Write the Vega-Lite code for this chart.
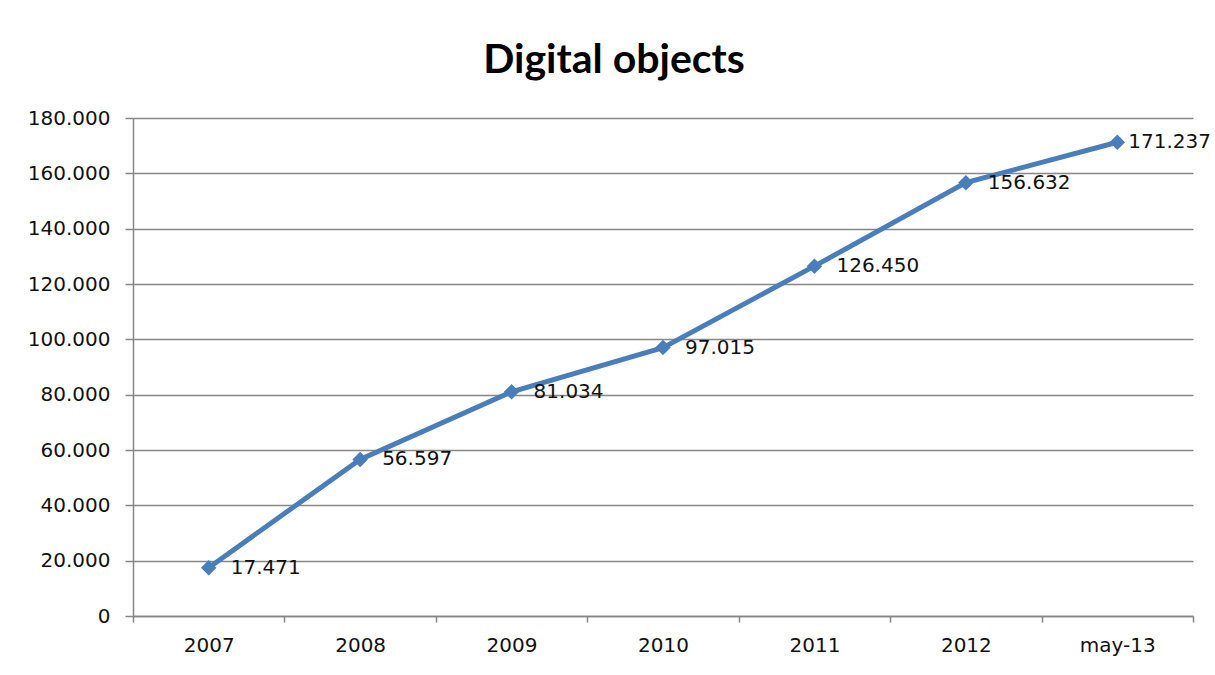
{
  "$schema": "https://vega.github.io/schema/vega-lite/v6.json",
  "width": 1060,
  "height": 498,
  "autosize": {"type": "none"},
  "padding": {"left": 133, "top": 118, "right": 22, "bottom": 59},
  "background": "white",
  "title": {
    "text": "Digital objects",
    "font": "Lato",
    "fontSize": 41,
    "fontWeight": "bold",
    "color": "#000000",
    "anchor": "middle",
    "dx": -49,
    "baseline": "alphabetic",
    "offset": -6
  },
  "data": {
    "values": [
      {"period": "2007", "objects": 17471},
      {"period": "2008", "objects": 56597},
      {"period": "2009", "objects": 81034},
      {"period": "2010", "objects": 97015},
      {"period": "2011", "objects": 126450},
      {"period": "2012", "objects": 156632},
      {"period": "may-13", "objects": 171237}
    ]
  },
  "encoding": {
    "x": {
      "field": "period",
      "type": "ordinal",
      "sort": null,
      "bandPosition": 0.5,
      "scale": {"type": "band", "paddingInner": 0, "paddingOuter": 0},
      "axis": {
        "title": null,
        "labelAngle": 0,
        "tickBand": "extent",
        "tickSize": 6,
        "tickColor": "#868686",
        "domainColor": "#868686",
        "domainWidth": 1.5,
        "tickWidth": 1.5,
        "labelFont": "DejaVu Sans",
        "labelFontSize": 20,
        "labelColor": "#111111",
        "labelPadding": 13,
        "grid": false
      }
    },
    "y": {
      "field": "objects",
      "type": "quantitative",
      "scale": {"domain": [0, 180000], "nice": false},
      "axis": {
        "title": null,
        "values": [0, 20000, 40000, 60000, 80000, 100000, 120000, 140000, 160000, 180000],
        "format": ",.0f",
        "tickSize": 8,
        "tickColor": "#868686",
        "tickWidth": 1.5,
        "domainColor": "#868686",
        "domainWidth": 1.5,
        "grid": true,
        "gridColor": "#868686",
        "gridWidth": 1.5,
        "gridOpacity": 1,
        "labelFont": "DejaVu Sans",
        "labelFontSize": 20,
        "labelColor": "#111111",
        "labelPadding": 15
      }
    }
  },
  "layer": [
    {
      "mark": {"type": "line", "color": "#4A7EBB", "strokeWidth": 5}
    },
    {
      "mark": {"type": "point", "shape": "diamond", "filled": true, "size": 240, "color": "#4A7EBB", "opacity": 1}
    },
    {
      "transform": [{"filter": "datum.period != 'may-13'"}],
      "mark": {"type": "text", "align": "left", "baseline": "middle", "dx": 22, "font": "DejaVu Sans", "fontSize": 20, "color": "#111111"},
      "encoding": {
        "text": {"field": "objects", "type": "quantitative", "format": ",.0f"}
      }
    },
    {
      "transform": [{"filter": "datum.period == 'may-13'"}],
      "mark": {"type": "text", "align": "left", "baseline": "middle", "dx": 11, "font": "DejaVu Sans", "fontSize": 20, "color": "#111111"},
      "encoding": {
        "text": {"field": "objects", "type": "quantitative", "format": ",.0f"}
      }
    }
  ],
  "config": {
    "view": {"stroke": null},
    "locale": {
      "number": {"decimal": ",", "thousands": ".", "grouping": [3], "currency": ["", "€"]}
    }
  }
}
